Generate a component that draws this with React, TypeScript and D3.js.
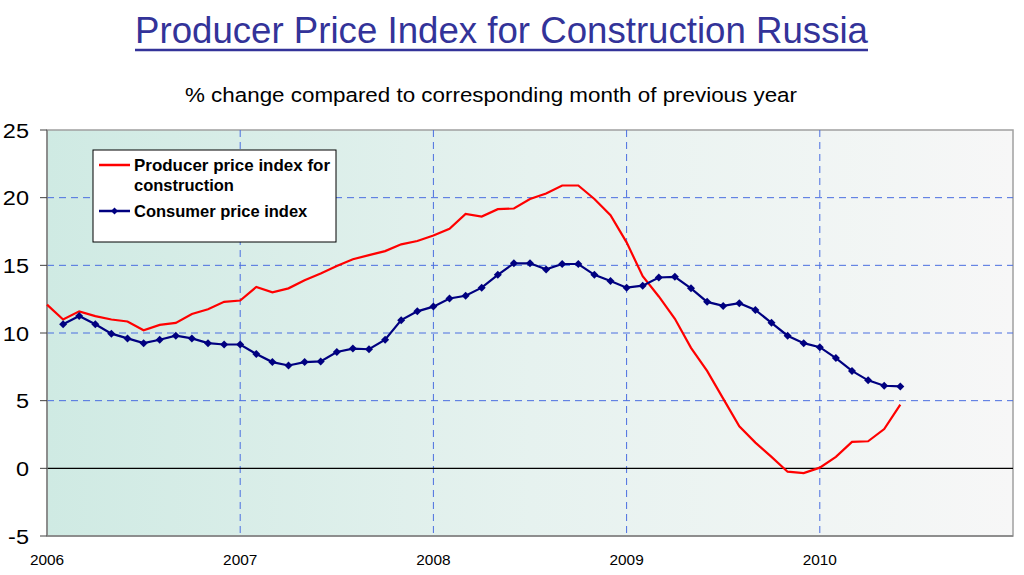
import React from "react";
import * as d3 from "d3";

const startYear = 2006;
const yearTicks = [2006, 2007, 2008, 2009, 2010];
const yTicks = [-5, 0, 5, 10, 15, 20, 25];

// Producer price index for construction, monthly from Jan 2006
const ppiValues = [
  12.1, 11.0, 11.6, 11.25, 11.0, 10.85, 10.2, 10.6, 10.75, 11.4, 11.75, 12.3,
  12.4, 13.4, 13.0, 13.3, 13.9, 14.4, 14.95, 15.45, 15.75, 16.05, 16.55, 16.8,
  17.2, 17.7, 18.8, 18.6, 19.15, 19.2, 19.9, 20.3, 20.9, 20.9, 19.9, 18.7,
  16.7, 14.2, 12.7, 11.05, 8.9, 7.2, 5.15, 3.1, 1.9, 0.85, -0.25, -0.35,
  0.05, 0.85, 1.95, 2.0, 2.9, 4.7,
];
const ppiStartMonth = 0;

// Consumer price index, monthly from Feb 2006
const cpiValues = [
  10.65, 11.25, 10.65, 9.95, 9.6, 9.25, 9.5, 9.8, 9.6, 9.25, 9.15,
  9.15, 8.45, 7.85, 7.6, 7.85, 7.9, 8.6, 8.85, 8.8, 9.5, 10.95, 11.6,
  11.95, 12.55, 12.75, 13.35, 14.3, 15.15, 15.15, 14.7, 15.1, 15.1, 14.3, 13.85,
  13.35, 13.5, 14.1, 14.15, 13.3, 12.3, 12.0, 12.2, 11.7, 10.75, 9.8, 9.25,
  8.95, 8.15, 7.2, 6.5, 6.1, 6.05,
];
const cpiStartMonth = 1;

const title = "Producer Price Index for Construction Russia";
const subtitle = "% change compared to corresponding month of previous year";
const legendPpi = ["Producer price index for", "construction"];
const legendCpi = "Consumer price index";

const W = 1024;
const H = 575;
const left = 47;
const right = 1013;
const top = 130;
const bottom = 536;

export default function App() {
  const x = d3.scaleLinear().domain([0, 60]).range([left, right]);
  const y = d3.scaleLinear().domain([-5, 25]).range([bottom, top]);

  const ppi = ppiValues.map((v, i) => ({ m: ppiStartMonth + i, v }));
  const cpi = cpiValues.map((v, i) => ({ m: cpiStartMonth + i, v }));

  const line = d3
    .line<{ m: number; v: number }>()
    .x((d) => x(d.m))
    .y((d) => y(d.v));

  const diamond = (cx: number, cy: number, r: number) =>
    `M${cx},${cy - r}L${cx + r},${cy}L${cx},${cy + r}L${cx - r},${cy}Z`;

  const font = "Liberation Sans, Arial, sans-serif";

  return (
    <svg
      width={W}
      height={H}
      style={{ position: "absolute", left: 0, top: 0, background: "#fff" }}
      fontFamily={font}
    >
      <defs>
        <linearGradient id="bg" x1="0" y1="0" x2="1" y2="0">
          <stop offset="0" stopColor="#cfeae3" />
          <stop offset="0.5" stopColor="#e6f2ef" />
          <stop offset="1" stopColor="#f7f7f7" />
        </linearGradient>
      </defs>

      <text
        x={135}
        y={43}
        fontSize={36}
        fill="#333399"
        textLength={733}
        lengthAdjust="spacingAndGlyphs"
      >
        {title}
      </text>
      <line x1={135} x2={868} y1={50} y2={50} stroke="#333399" strokeWidth={2.5} />
      <text
        x={185}
        y={102}
        fontSize={20.5}
        fill="#000"
        textLength={612}
        lengthAdjust="spacingAndGlyphs"
      >
        {subtitle}
      </text>

      <rect
        x={left}
        y={top}
        width={right - left}
        height={bottom - top}
        fill="url(#bg)"
        stroke="#a0a0a0"
        strokeWidth={1.5}
      />

      {yTicks
        .filter((t) => t !== 0 && t !== 25 && t !== -5)
        .map((t) => (
          <line
            key={"hy" + t}
            x1={left}
            x2={right}
            y1={y(t)}
            y2={y(t)}
            stroke="#4a6ee0"
            strokeDasharray="7,5"
            strokeWidth={1}
          />
        ))}
      {yearTicks
        .filter((yr) => yr !== startYear)
        .map((yr) => (
          <line
            key={"vx" + yr}
            x1={x((yr - startYear) * 12)}
            x2={x((yr - startYear) * 12)}
            y1={top}
            y2={bottom}
            stroke="#4a6ee0"
            strokeDasharray="7,5"
            strokeWidth={1}
          />
        ))}
      <line x1={left} x2={right} y1={y(0)} y2={y(0)} stroke="#000" strokeWidth={1.2} />

      <line x1={left} x2={left} y1={top} y2={bottom} stroke="#808080" strokeWidth={1.5} />
      <line x1={left} x2={right} y1={bottom} y2={bottom} stroke="#808080" strokeWidth={1.5} />

      {yTicks.map((t) => (
        <g key={"yt" + t}>
          <line x1={40} x2={left} y1={y(t)} y2={y(t)} stroke="#404040" strokeWidth={1} />
          <text
            transform={`translate(29,${y(t) + 7.5}) scale(1.12,1)`}
            textAnchor="end"
            fontSize={21}
            fill="#000"
          >
            {t}
          </text>
        </g>
      ))}

      {yearTicks.map((yr) => (
        <text
          key={"xt" + yr}
          transform={`translate(${x((yr - startYear) * 12)},565) scale(1.1,1)`}
          textAnchor="middle"
          fontSize={14}
          fill="#000"
        >
          {yr}
        </text>
      ))}

      <path d={line(ppi) || ""} fill="none" stroke="#ff0000" strokeWidth={2.2} />
      <path d={line(cpi) || ""} fill="none" stroke="#000080" strokeWidth={2.2} />
      {cpi.map((d) => (
        <path key={"c" + d.m} d={diamond(x(d.m), y(d.v), 4)} fill="#000080" />
      ))}

      <g>
        <rect x={93} y={150} width={243} height={92} fill="#fff" stroke="#000" strokeWidth={1} />
        <line x1={99} x2={130} y1={165} y2={165} stroke="#ff0000" strokeWidth={2.5} />
        <text x={134} y={171} fontSize={16.5} fontWeight="bold" fill="#000" textLength={196} lengthAdjust="spacingAndGlyphs">
          {legendPpi[0]}
        </text>
        <text x={134} y={191} fontSize={16.5} fontWeight="bold" fill="#000">
          {legendPpi[1]}
        </text>
        <line x1={99} x2={130} y1={211} y2={211} stroke="#000080" strokeWidth={2.5} />
        <path d={diamond(114.5, 211, 3.5)} fill="#000080" />
        <text x={134} y={217} fontSize={16.5} fontWeight="bold" fill="#000">
          {legendCpi}
        </text>
      </g>
    </svg>
  );
}
